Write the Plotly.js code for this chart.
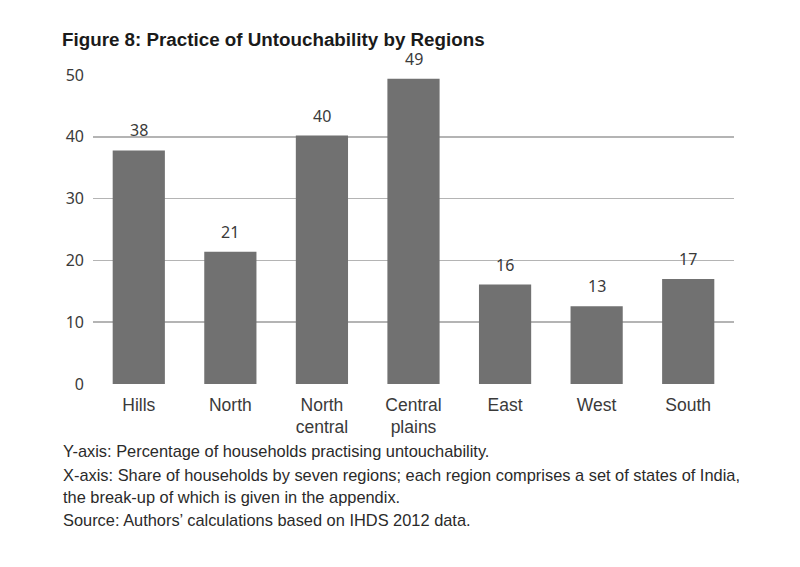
<!DOCTYPE html>
<html>
<head>
<meta charset="utf-8">
<script src="https://cdn.plot.ly/plotly-3.0.1.min.js"></script>
<style>html,body{margin:0;padding:0;background:#fff;}#chart{width:800px;height:567px;}</style>
</head>
<body>
<div id="chart"></div>
<script>
var regions = ['Hills', 'North', 'North<br>central', 'Central<br>plains', 'East', 'West', 'South'];
var shares = [37.8, 21.4, 40.2, 49.4, 16.1, 12.6, 17.0];
var shareLabels = ['38', '21', '40', '49', '16', '13', '17'];
var yTicks = [0, 10, 20, 30, 40, 50];
var titleText = 'Figure 8: Practice of Untouchability by Regions';
var notes = [
  'Y-axis: Percentage of households practising untouchability.',
  'X-axis: Share of households by seven regions; each region comprises a set of states of India,',
  'the break-up of which is given in the appendix.',
  'Source: Authors\u2019 calculations based on IHDS 2012 data.'
];

var narrow = '"Liberation Sans Narrow", "Arial Narrow", "Liberation Sans", sans-serif';
var tickFont = {family: narrow, size: 17.5, color: '#3a3a3a'};
var numFont = {family: '"Noto Sans", "Open Sans", sans-serif', size: 16, color: '#3a3a3a'};

var annotations = regions.map(function (r, i) {
  return {
    x: r, y: shares[i], xref: 'x', yref: 'y',
    text: shareLabels[i], showarrow: false,
    yanchor: 'bottom', yshift: 7,
    font: numFont
  };
});
var noteY = [451, 475, 498, 521];
notes.forEach(function (t, i) {
  annotations.push({
    xref: 'paper', yref: 'paper',
    x: (61 - 93) / 641, y: (384.3 - noteY[i]) / 309.6,
    xanchor: 'left', yanchor: 'middle', align: 'left',
    text: t, showarrow: false,
    font: {family: narrow, size: 16.4, color: '#2a2a2a'}
  });
});

var data = [{
  type: 'bar',
  x: regions,
  y: shares,
  marker: {color: '#717171', line: {width: 0}},
  cliponaxis: false,
  hoverinfo: 'none'
}];

var layout = {
  width: 800, height: 567,
  paper_bgcolor: '#ffffff', plot_bgcolor: '#ffffff',
  margin: {l: 93, r: 66, t: 75, b: 183, pad: 0},
  bargap: 0.43,
  showlegend: false,
  title: {
    text: '<b>' + titleText + '</b>',
    xref: 'container', x: 62 / 800, xanchor: 'left',
    yref: 'container', y: (567 - 39) / 567, yanchor: 'middle',
    font: {family: narrow, size: 18.8, color: '#1a1a1a'}
  },
  xaxis: {
    type: 'category',
    showgrid: false, zeroline: false, showline: false,
    ticks: '', tickfont: tickFont, ticklabelstandoff: 8
  },
  yaxis: {
    range: [0, 50], tickvals: yTicks, ticktext: yTicks.map(String),
    showgrid: true, gridcolor: '#b4b4b4', gridwidth: 1.5,
    zeroline: false, showline: false, ticks: '',
    tickfont: numFont, ticklabelstandoff: 8
  },
  annotations: annotations
};

Plotly.newPlot('chart', data, layout, {displayModeBar: false, staticPlot: true});
</script>
</body>
</html>
